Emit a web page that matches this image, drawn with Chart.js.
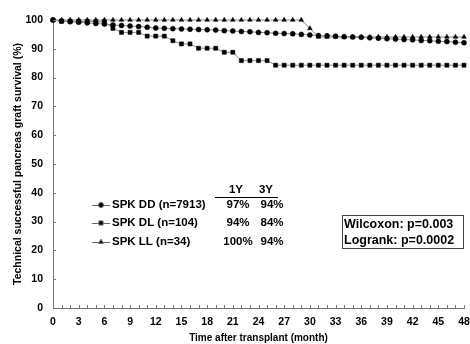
<!DOCTYPE html>
<html>
<head>
    <title>Pancreas graft survival</title>
    <script src="https://cdn.jsdelivr.net/npm/chart.js"></script>
    <style>
        body { margin: 0; background: #ffffff; }
        #wrap { position: relative; width: 470px; height: 344px; }
    </style>
</head>
<body>
<div id="wrap"><canvas id="chart" width="470" height="344"></canvas></div>
<script>
    // months after transplant
    var months = [0, 1, 2, 3, 4, 5, 6, 7, 8, 9, 10, 11, 12, 13, 14, 15, 16, 17, 18, 19, 20, 21, 22, 23, 24,
        25, 26, 27, 28, 29, 30, 31, 32, 33, 34, 35, 36, 37, 38, 39, 40, 41, 42, 43, 44, 45, 46, 47, 48];

    // survival (%)
    var survDD = [100, 99.6, 99.4, 99.2, 99.0, 98.8, 98.6, 98.3, 98.1, 97.9, 97.7, 97.5, 97.2, 97.1, 97.0, 96.9, 96.8,
        96.7, 96.6, 96.5, 96.3, 96.2, 96.0, 95.9, 95.7, 95.6, 95.4, 95.3, 95.2, 95.0, 94.8, 94.6, 94.5, 94.4,
        94.2, 94.1, 94.0, 93.8, 93.7, 93.5, 93.4, 93.2, 93.1, 92.9, 92.8, 92.6, 92.5, 92.3, 92.1];
    var survDL = [100, 99.6, 99.6, 99.5, 99.5, 99.4, 99.4, 97.1, 95.7, 95.7, 95.7, 94.4, 94.4, 94.4, 92.8, 91.7, 91.7,
        90.2, 90.2, 90.2, 88.8, 88.8, 85.9, 85.9, 85.9, 85.9, 84.3, 84.3, 84.3, 84.3, 84.3, 84.3, 84.3, 84.3,
        84.3, 84.3, 84.3, 84.3, 84.3, 84.3, 84.3, 84.3, 84.3, 84.3, 84.3, 84.3, 84.3, 84.3, 84.3];
    var survLL = [100, 100, 100, 100, 100, 100, 100, 100, 100, 100, 100, 100, 100, 100, 100, 100, 100,
        100, 100, 100, 100, 100, 100, 100, 100, 100, 100, 100, 100, 100, 97.1, 94.1, 94.1, 94.1,
        94.1, 94.1, 94.1, 94.1, 94.1, 94.1, 94.1, 94.1, 94.1, 94.1, 94.1, 94.1, 94.1, 94.1, 94.1];

    var seriesNames = ['SPK DD (n=7913)', 'SPK DL (n=104)', 'SPK LL (n=34)'];
    var oneYear = ['97%', '94%', '100%'];
    var threeYear = ['94%', '84%', '94%'];
    var pointStyles = ['circle', 'rect', 'triangle'];
    var pointSizes = [2.5, 2.9, 2.7];
    var stats = ['Wilcoxon: p=0.003', 'Logrank: p=0.0002'];

    var family = '"Liberation Sans", Arial, sans-serif';

    function toXY(ys) {
        return months.map(function (m, i) { return { x: m, y: ys[i] }; });
    }

    function makeSet(i, ys) {
        return {
            label: seriesNames[i],
            data: toXY(ys),
            borderColor: '#8a8a8a',
            borderWidth: 1,
            pointStyle: pointStyles[i],
            pointRadius: pointSizes[i],
            pointBackgroundColor: '#000',
            pointBorderColor: '#000',
            pointBorderWidth: 0.5,
            fill: false,
            tension: 0,
            clip: false
        };
    }

    // inward tick marks, legend table and the p-value box
    var extras = {
        id: 'extras',
        afterDraw: function (chart) {
            var ctx = chart.ctx;
            var xs = chart.scales.x, ys = chart.scales.y;
            var area = chart.chartArea;
            ctx.save();
            ctx.strokeStyle = '#777';
            ctx.lineWidth = 1;
            ctx.beginPath();
            months.forEach(function (m) {
                var px = Math.round(xs.getPixelForValue(m)) + 0.5;
                ctx.moveTo(px, area.bottom);
                ctx.lineTo(px, area.bottom - 3);
            });
            for (var v = 0; v <= 100; v += 10) {
                var py = Math.round(ys.getPixelForValue(v)) + 0.5;
                ctx.moveTo(area.left, py);
                ctx.lineTo(area.left + 3, py);
            }
            ctx.stroke();

            // legend
            ctx.font = 'bold 11.5px ' + family;
            ctx.fillStyle = '#000';
            ctx.textBaseline = 'middle';
            var rows = [205, 223, 242];
            chart.data.datasets.forEach(function (ds, i) {
                var y = rows[i];
                ctx.strokeStyle = '#666';
                ctx.beginPath();
                ctx.moveTo(92, y + 0.5);
                ctx.lineTo(110, y + 0.5);
                ctx.stroke();
                Chart.helpers.drawPoint(ctx, {
                    pointStyle: ds.pointStyle, radius: ds.pointRadius, rotation: 0, borderWidth: 0.5
                }, 101, y);
                ctx.fillStyle = '#000';
                ctx.textAlign = 'left';
                ctx.fillText(ds.label, 112, y);
                ctx.textAlign = 'center';
                ctx.fillText(oneYear[i], 238, y);
                ctx.fillText(threeYear[i], 272, y);
            });
            ctx.textAlign = 'center';
            ctx.fillText('1Y', 236, 190);
            ctx.fillText('3Y', 266, 190);
            ctx.strokeStyle = '#000';
            ctx.beginPath();
            ctx.moveTo(215, 197.5);
            ctx.lineTo(278, 197.5);
            ctx.stroke();

            // p-value box
            ctx.font = 'bold 12.5px ' + family;
            ctx.strokeStyle = '#444';
            ctx.strokeRect(342.5, 215.5, 121, 33);
            ctx.textAlign = 'left';
            ctx.fillText(stats[0], 344, 225);
            ctx.fillText(stats[1], 344, 241);
            ctx.restore();
        }
    };

    var tickFont = { family: family, size: 10.5, weight: 'bold' };

    new Chart(document.getElementById('chart'), {
        type: 'line',
        data: {
            datasets: [makeSet(0, survDD), makeSet(1, survDL), makeSet(2, survLL)]
        },
        options: {
            responsive: false,
            animation: false,
            layout: { padding: { top: 20, right: 6, left: 0, bottom: 0 } },
            plugins: { legend: { display: false }, tooltip: { enabled: false } },
            scales: {
                x: {
                    type: 'linear',
                    min: 0,
                    max: 48,
                    border: { color: '#777', width: 1 },
                    grid: { display: false },
                    ticks: {
                        stepSize: 3,
                        autoSkip: false,
                        maxRotation: 0,
                        padding: 0,
                        color: '#000',
                        font: tickFont
                    },
                    title: {
                        display: true,
                        text: 'Time after transplant (month)',
                        color: '#000',
                        font: { family: family, size: 10, weight: 'bold' },
                        padding: { top: 2, bottom: 0 }
                    },
                    afterFit: function (s) { s.height = 36; }
                },
                y: {
                    min: 0,
                    max: 100,
                    border: { color: '#777', width: 1 },
                    grid: { display: false },
                    ticks: {
                        stepSize: 10,
                        padding: 2,
                        color: '#000',
                        font: tickFont
                    },
                    title: {
                        display: true,
                        text: 'Technical successful pancreas graft survival (%)',
                        color: '#000',
                        font: { family: family, size: 10.5, weight: 'bold' },
                        padding: { top: 12, bottom: 0 }
                    },
                    afterFit: function (s) { s.width = 53; }
                }
            }
        },
        plugins: [extras]
    });
</script>
</body>
</html>
